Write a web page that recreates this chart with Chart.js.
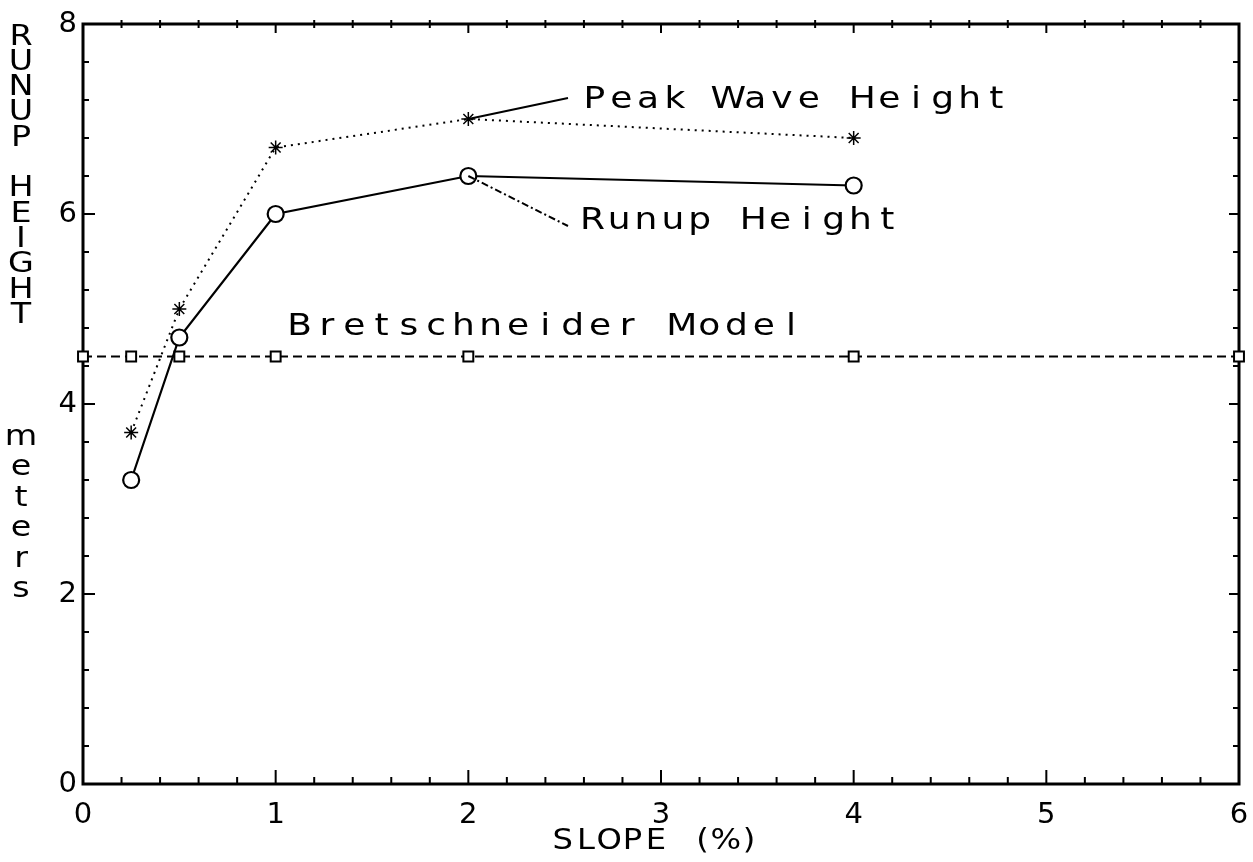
<!DOCTYPE html>
<html><head><meta charset="utf-8">
<script src="https://cdn.jsdelivr.net/npm/chart.js@4/dist/chart.umd.min.js"></script>
<style>html,body{margin:0;padding:0;background:#fff}#wrap{width:1253px;height:862px}</style>
</head><body><div id="wrap"><canvas id="c" width="1253" height="862"></canvas></div>
<script>
const slopes = [0.25, 0.5, 1, 2, 4];
const runupHeight = [3.2, 4.7, 6.0, 6.4, 6.3];
const peakWaveHeight = [3.7, 5.0, 6.7, 7.0, 6.8];
const bretSlopes = [0, 0.25, 0.5, 1, 2, 4, 6];
const bretHeight = [4.5, 4.5, 4.5, 4.5, 4.5, 4.5, 4.5];
const xTicks = [0, 1, 2, 3, 4, 5, 6];
const yTicks = [0, 2, 4, 6, 8];
const peakLabel = 'Peak Wave Height';
const runupLabel = 'Runup Height';
const bretLabel = 'Bretschneider Model';
const xTitle = 'SLOPE (%)';
const yTitleTop = 'RUNUP HEIGHT';
const yTitleUnit = 'meters';

const FONT = '"DejaVu Sans", "Liberation Sans", sans-serif';

function wideChar(ctx, ch, cx, cy, sx) {
  ctx.save();
  ctx.translate(cx, cy);
  ctx.scale(sx, 1);
  ctx.textAlign = 'center';
  ctx.fillText(ch, 0, 0);
  ctx.restore();
}
function spacedText(ctx, str, x, y, adv, sx) {
  for (let i = 0; i < str.length; i++) {
    wideChar(ctx, str[i], x + i * adv + adv / 2, y, sx);
  }
}

const decor = {
  id: 'decor',
  beforeDatasetsDraw(chart) {
    const ctx = chart.ctx, a = chart.chartArea;
    const xs = chart.scales.x, ys = chart.scales.y;
    ctx.save();
    ctx.strokeStyle = '#000';
    ctx.lineWidth = 3;
    ctx.strokeRect(a.left, a.top, a.right - a.left, a.bottom - a.top);
    ctx.lineWidth = 2;
    ctx.beginPath();
    for (let i = 0; i <= 30; i++) {
      const v = i * 0.2, px = xs.getPixelForValue(v), major = i % 5 === 0;
      ctx.moveTo(px, a.bottom); ctx.lineTo(px, a.bottom - (major ? 14 : 7));
      if (major) { ctx.moveTo(px, a.top); ctx.lineTo(px, a.top + 9); }
      else { ctx.moveTo(px, a.top - 4); ctx.lineTo(px, a.top + 4); }
    }
    for (let i = 0; i <= 20; i++) {
      const v = i * 0.4, py = ys.getPixelForValue(v), major = i % 5 === 0;
      ctx.moveTo(a.left, py); ctx.lineTo(a.left + (major ? 12 : 6), py);
      ctx.moveTo(a.right, py); ctx.lineTo(a.right - (major ? 10 : 6), py);
    }
    ctx.stroke();
    ctx.restore();
  },
  afterDraw(chart) {
    const ctx = chart.ctx;
    const xs = chart.scales.x, ys = chart.scales.y;
    ctx.save();
    ctx.fillStyle = '#000';
    ctx.strokeStyle = '#000';
    const p2 = [xs.getPixelForValue(slopes[3]), ys.getPixelForValue(peakWaveHeight[3])];
    const r2 = [xs.getPixelForValue(slopes[3]), ys.getPixelForValue(runupHeight[3])];
    ctx.lineWidth = 2;
    ctx.setLineDash([]);
    ctx.beginPath(); ctx.moveTo(p2[0], p2[1]); ctx.lineTo(568, 98); ctx.stroke();
    ctx.setLineDash([7, 3, 2, 3]);
    ctx.beginPath(); ctx.moveTo(r2[0], r2[1]); ctx.lineTo(568, 226); ctx.stroke();
    ctx.setLineDash([]);
    ctx.font = '30px ' + FONT;
    ctx.textBaseline = 'middle';
    spacedText(ctx, peakLabel, 581, 100, 26.8, 1.2);
    spacedText(ctx, runupLabel, 579, 221, 26.8, 1.2);
    spacedText(ctx, bretLabel, 286, 327, 27.3, 1.2);
    ctx.font = '28px ' + FONT;
    spacedText(ctx, xTitle, 551, 842, 23.3, 1.15);
    ctx.font = '29px ' + FONT;
    for (let i = 0; i < yTitleTop.length; i++) {
      wideChar(ctx, yTitleTop[i], 21, 37 + i * 25.3, 1.15);
    }
    for (let i = 0; i < yTitleUnit.length; i++) {
      wideChar(ctx, yTitleUnit[i], 21, 437 + i * 30.5, 1.15);
    }
    ctx.restore();
  }
};

new Chart(document.getElementById('c'), {
  type: 'line',
  data: {
    datasets: [
      {
        label: runupLabel,
        data: slopes.map((s, i) => ({x: s, y: runupHeight[i]})),
        borderColor: '#000', borderWidth: 2.2,
        pointStyle: 'circle', pointRadius: 8, pointBorderWidth: 2.2,
        pointBackgroundColor: '#fff', pointBorderColor: '#000',
        tension: 0, clip: false
      },
      {
        label: peakLabel,
        data: slopes.map((s, i) => ({x: s, y: peakWaveHeight[i]})),
        borderColor: '#000', borderWidth: 2, borderDash: [2, 5],
        pointStyle: 'star', pointRadius: 7, pointBorderWidth: 1.5,
        pointBackgroundColor: '#fff', pointBorderColor: '#000',
        tension: 0, clip: false
      },
      {
        label: bretLabel,
        data: bretSlopes.map((s, i) => ({x: s, y: bretHeight[i]})),
        borderColor: '#000', borderWidth: 2, borderDash: [9, 5],
        pointStyle: 'rect', pointRadius: 7, pointBorderWidth: 2,
        pointBackgroundColor: '#fff', pointBorderColor: '#000',
        tension: 0, clip: false
      }
    ]
  },
  options: {
    responsive: false, animation: false, devicePixelRatio: 1,
    layout: {padding: {top: 24, right: 14, left: 0, bottom: 0}},
    plugins: {legend: {display: false}, tooltip: {enabled: false}},
    scales: {
      x: {
        type: 'linear', min: 0, max: 6,
        afterBuildTicks: s => { s.ticks = xTicks.map(v => ({value: v})); },
        afterFit: s => { s.height = 78; s.paddingLeft = 0; s.paddingRight = 0; },
        grid: {display: false, drawTicks: false},
        border: {display: false},
        ticks: {color: '#000', padding: 14, maxRotation: 0, font: {family: FONT, size: 29}}
      },
      y: {
        type: 'linear', min: 0, max: 8,
        afterBuildTicks: s => { s.ticks = yTicks.map(v => ({value: v})); },
        afterFit: s => { s.width = 83; s.paddingTop = 0; s.paddingBottom = 0; },
        grid: {display: false, drawTicks: false},
        border: {display: false},
        ticks: {color: '#000', padding: 6, font: {family: FONT, size: 29}}
      }
    }
  },
  plugins: [decor]
});
</script>
</body></html>
